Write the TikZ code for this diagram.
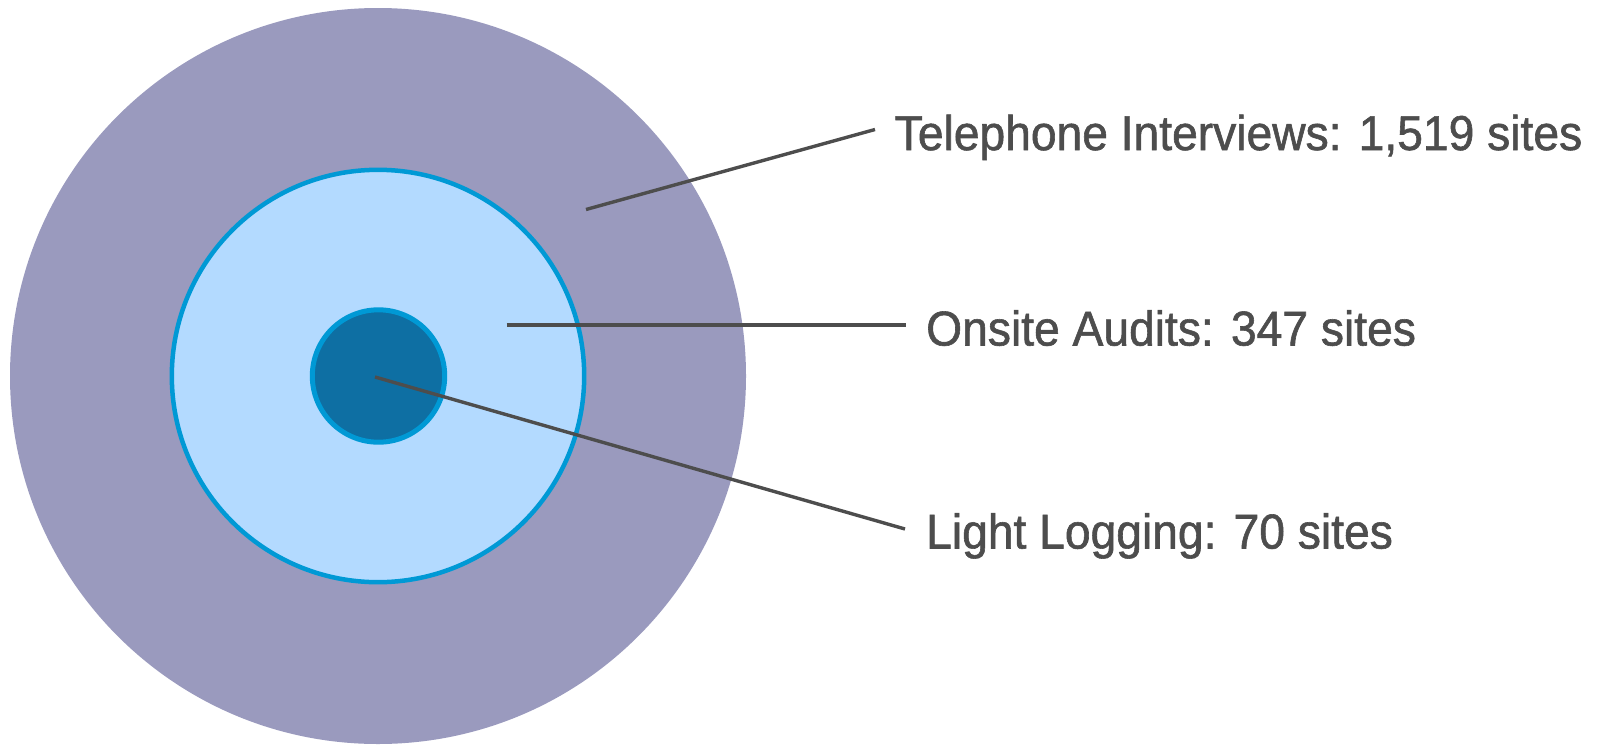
\documentclass[tikz,border=0pt]{standalone}
\usepackage{fontspec}
\setmainfont{Liberation Sans}[FakeStretch=0.945, FakeBold=1.2]
\definecolor{outerring}{HTML}{9A9ABE}
\definecolor{midfill}{HTML}{B3DAFF}
\definecolor{ringedge}{HTML}{0099D5}
\definecolor{corefill}{HTML}{0E6FA3}
\definecolor{labelgrey}{HTML}{4D4D4D}
\tikzset{
  leader/.style={draw=labelgrey, line width=3.4pt},
  lbl/.style={anchor=base west, inner sep=0pt, text=labelgrey, font=\fontsize{48.9}{58}\selectfont},
}
\begin{document}
\begin{tikzpicture}[x=1pt, y=-1pt]
  \useasboundingbox (0,0) rectangle (1602,744);
  % concentric site groups
  \fill[outerring] (378,376) circle (368);
  \filldraw[fill=midfill, draw=ringedge, line width=4.5pt] (378,376) circle (206.2);
  \filldraw[fill=corefill, draw=ringedge, line width=5pt] (378.5,376) circle (66.2);
  % labels
  \node[lbl] (tel) at (894.5,150) {Telephone Interviews: 1,519 sites};
  \node[lbl] (ons) at (926,345.5) {Onsite Audits: 347 sites};
  \node[lbl] (lgt) at (926,548.5) {Light Logging: 70 sites};
  % leader line ends
  \coordinate (telA) at (586,209.5);
  \coordinate (telB) at (875,129.5);
  \coordinate (onsA) at (506.5,325);
  \coordinate (onsB) at (906,325);
  \coordinate (lgtA) at (375,377);
  \coordinate (lgtB) at (905,529);
  \draw[leader] (telA) -- (telB);
  \draw[leader] (onsA) -- (onsB);
  \draw[leader] (lgtA) -- (lgtB);
\end{tikzpicture}
\end{document}
